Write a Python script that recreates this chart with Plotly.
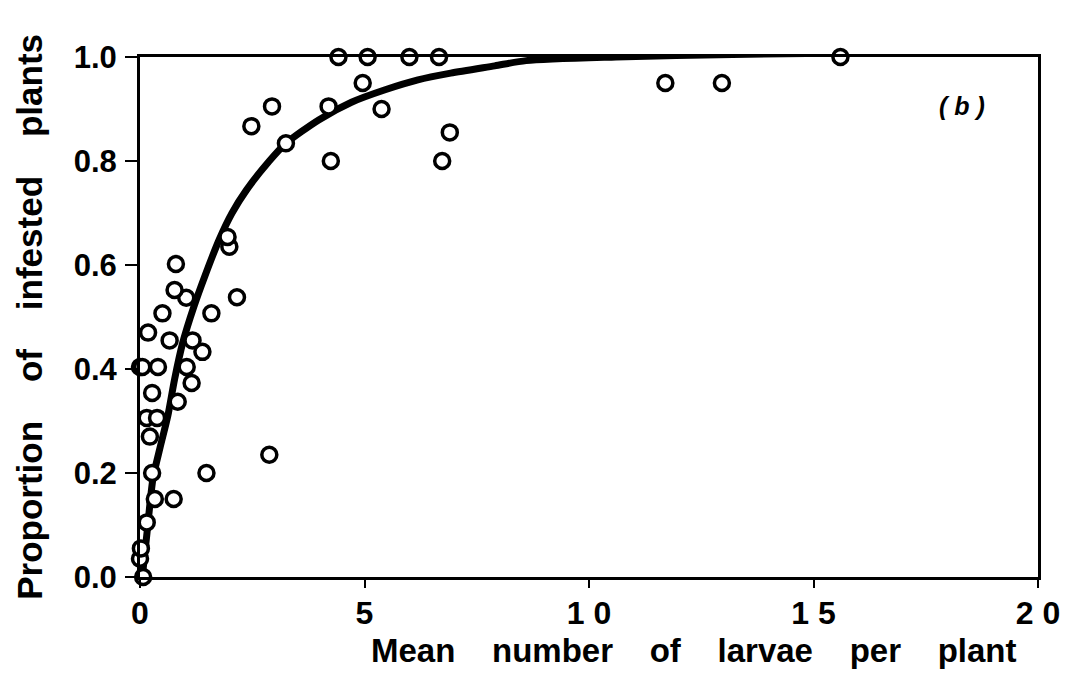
import plotly.graph_objects as go

# Observed data: mean larvae per plant vs proportion of infested plants
obs_x = [0.07, 0.0, 0.02, 0.15, 0.27, 0.33, 0.75, 1.48, 0.22, 2.88, 0.15, 0.38,
         0.27, 0.84, 1.15, 0.0, 0.05, 0.4, 1.04, 1.39, 0.66, 1.17, 0.18, 0.5,
         1.59, 1.03, 2.16, 0.77, 0.8, 1.99, 1.95, 2.48, 2.94, 3.25, 4.2, 4.25,
         4.42, 4.96, 5.07, 5.38, 6.0, 6.66, 6.73, 6.9, 11.7, 12.96, 15.6]
obs_y = [0.0, 0.035, 0.055, 0.105, 0.20, 0.15, 0.15, 0.20, 0.27, 0.235, 0.306, 0.306,
         0.354, 0.337, 0.373, 0.404, 0.404, 0.404, 0.404, 0.433, 0.455, 0.455, 0.47, 0.507,
         0.507, 0.537, 0.538, 0.552, 0.602, 0.635, 0.654, 0.867, 0.905, 0.834, 0.905, 0.80,
         1.0, 0.95, 1.0, 0.90, 1.0, 1.0, 0.80, 0.855, 0.95, 0.95, 1.0]

# Fitted curve
fit_x = [0.05, 0.15, 0.29, 0.45, 0.62, 0.77, 0.95, 1.2, 1.45, 1.77, 2.05, 2.37, 2.88, 3.25,
         3.98, 4.71, 5.46, 6.19, 6.92, 7.9, 8.6, 10.6, 13.2, 16.5, 18.95]
fit_y = [0.0, 0.08, 0.19, 0.25, 0.31, 0.38, 0.45, 0.52, 0.58, 0.65, 0.70, 0.744, 0.80, 0.834,
         0.879, 0.913, 0.937, 0.956, 0.969, 0.983, 0.993, 1.0, 1.005, 1.008, 1.01]

x_ticks = [0, 5, 10, 15, 20]
x_ticktext = ["0", "5", "1 0", "1 5", "2 0"]
y_ticks = [0.0, 0.2, 0.4, 0.6, 0.8, 1.0]
y_ticktext = ["0.0", "0.2", "0.4", "0.6", "0.8", "1.0"]

NB = "\u00a0"
x_title = (NB * 4).join(["Mean", "number", "of", "larvae", "per", "plant"])
y_title = (NB * 4).join(["Proportion", "of", "infested", "plants"])

FONT = "Liberation Sans, Arial, Helvetica, sans-serif"

fig = go.Figure()
fig.add_trace(go.Scatter(
    x=fit_x, y=fit_y, mode="lines",
    line=dict(color="black", width=7, shape="spline", smoothing=0.7),
    cliponaxis=False, hoverinfo="skip", showlegend=False))
fig.add_trace(go.Scatter(
    x=obs_x, y=obs_y, mode="markers",
    marker=dict(symbol="circle", size=15, color="white",
                line=dict(color="black", width=3.5)),
    cliponaxis=False, showlegend=False))

fig.update_layout(
    width=1072, height=680,
    margin=dict(l=140, r=23, t=57, b=103),
    paper_bgcolor="white", plot_bgcolor="white",
    xaxis=dict(range=[0, 20], tickvals=x_ticks, ticktext=x_ticktext,
               showgrid=False, zeroline=False, showline=True, linecolor="black",
               linewidth=3, mirror=True, ticks="outside", ticklen=8, tickwidth=2,
               tickcolor="black", ticklabelstandoff=-2, ticklabeloverflow="allow",
               tickfont=dict(family=FONT, size=32, color="black", weight="bold")),
    yaxis=dict(range=[0, 1], tickvals=y_ticks, ticktext=y_ticktext,
               showgrid=False, zeroline=False, showline=True, linecolor="black",
               linewidth=3, mirror=True, ticks="outside", ticklen=12, tickwidth=2,
               tickcolor="black", ticklabelstandoff=2,
               tickfont=dict(family=FONT, size=31, color="black", weight="bold")),
    annotations=[
        dict(text=x_title, xref="paper", yref="paper", x=0.616, y=-0.142,
             xanchor="center", yanchor="middle", showarrow=False,
             font=dict(family=FONT, size=33, color="black", weight="bold")),
        dict(text=y_title, xref="paper", yref="paper", x=-0.1238, y=0.5,
             xanchor="center", yanchor="middle", showarrow=False, textangle=-90,
             font=dict(family=FONT, size=35, color="black", weight="bold")),
        dict(text="<i>(" + NB + "b" + NB + ")</i>", x=18.3, y=0.905, xref="x", yref="y",
             showarrow=False, xanchor="center", yanchor="middle",
             font=dict(family=FONT, size=25, color="black", weight="bold")),
    ],
)

fig.write_html("out.html", config={"displayModeBar": False},
               post_script="document.body.style.margin='0';document.body.style.overflow='hidden';")
